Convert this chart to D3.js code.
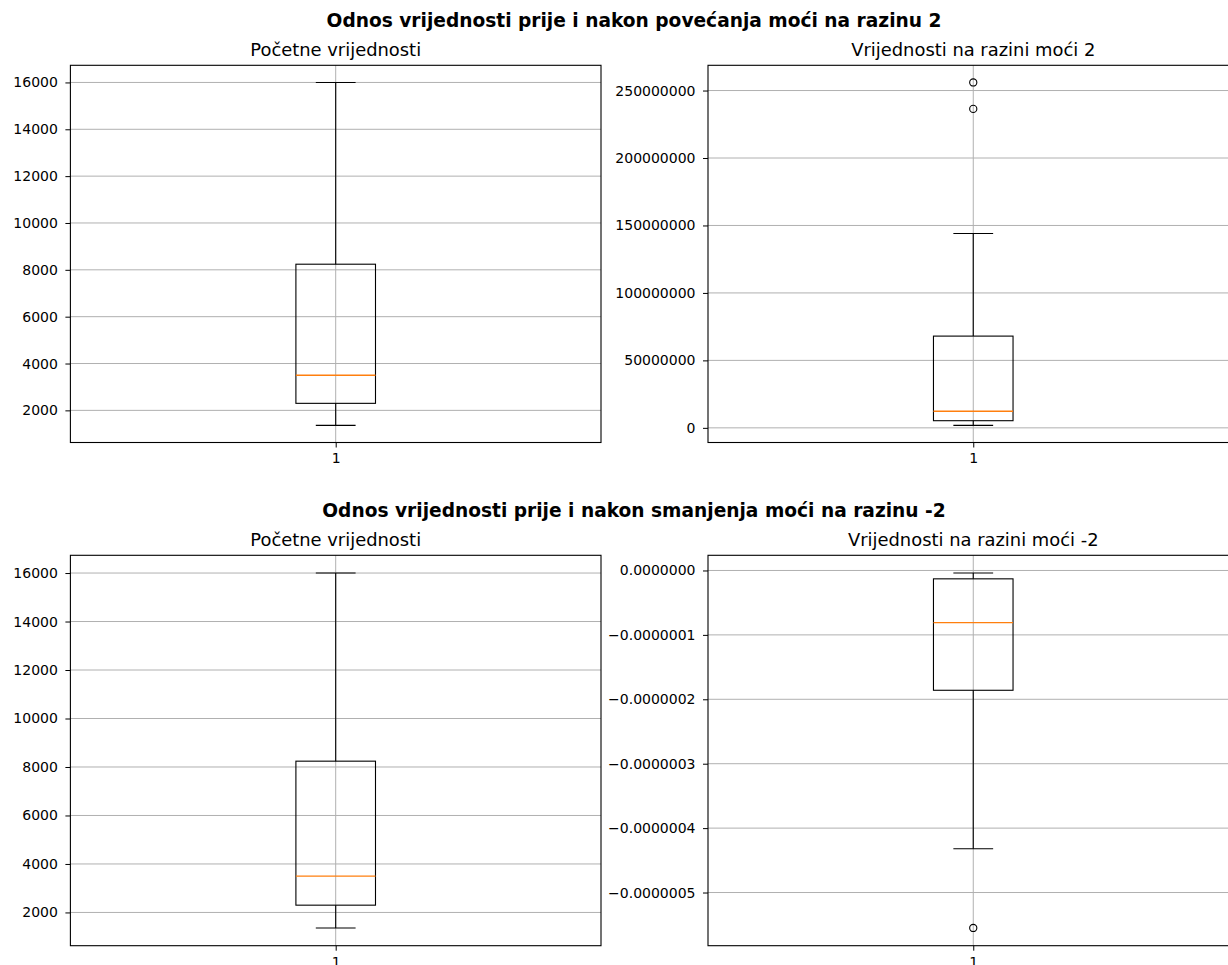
<!DOCTYPE html>
<html lang="hr">
    <head>
        <meta charset="utf-8">
        <title>Odnos vrijednosti prije i nakon promjene moći</title>
        <script src="https://cdn.jsdelivr.net/npm/d3@7"></script>
        <style>
            body { margin: 0; background: #fff; }
            svg { display: block; font-family: "DejaVu Sans", sans-serif; }
        </style>
    </head>
    <body>
        <script type="text/javascript">

            // box stats: [low whisker, q1, median, q3, high whisker]
            var pocetne = [1360, 2300, 3500, 8240, 16000];
            var pocetneOut = [];
            var razina2 = [1850000, 5300000, 12250000, 68000000, 144000000];
            var razina2Out = [236400000, 256000000];
            var razinaMinus2 = [-4.32e-7, -1.86e-7, -0.81e-7, -0.13e-7, -0.04e-7];
            var razinaMinus2Out = [-5.55e-7];

            // tick values
            var ticksPocetne = [2000, 4000, 6000, 8000, 10000, 12000, 14000, 16000];
            var ticksRazina2 = [0, 50000000, 100000000, 150000000, 200000000, 250000000];
            var ticksMinus2 = [0, -1e-7, -2e-7, -3e-7, -4e-7, -5e-7];
            var categories = ["1"];

            var suptitles = [
                "Odnos vrijednosti prije i nakon povećanja moći na razinu 2",
                "Odnos vrijednosti prije i nakon smanjenja moći na razinu -2"
            ];
            var titles = [
                "Početne vrijednosti",
                "Vrijednosti na razini moći 2",
                "Početne vrijednosti",
                "Vrijednosti na razini moći -2"
            ];

            //Width and height etc
            var w = 1228;
            var h = 965;
            var rowTop = [65.3, 555.3];
            var rowBottom = [442.5, 945.7];
            var colLeft = [70.4, 708];
            var colRight = [601, 1238.5];

            var svg = d3.select("body")
                .append("svg")
                .attr("width", w)
                .attr("height", h);

            // figure titles, one per row
            svg.selectAll("text.suptitle")
                .data(suptitles)
                .enter()
                .append("text")
                .attr("class", "suptitle")
                .attr("x", 634)
                .attr("y", function(d, i) { return rowTop[i] - 38; })
                .attr("text-anchor", "middle")
                .attr("font-weight", "bold")
                .attr("font-size", "18.6px")
                .attr("fill", "#000")
                .text(function(d) { return d; });

            var panels = [
                { stats: pocetne, out: pocetneOut, ticks: ticksPocetne, fmt: d3.format("d"), row: 0, col: 0 },
                { stats: razina2, out: razina2Out, ticks: ticksRazina2, fmt: d3.format("d"), row: 0, col: 1 },
                { stats: pocetne, out: pocetneOut, ticks: ticksPocetne, fmt: d3.format("d"), row: 1, col: 0 },
                { stats: razinaMinus2, out: razinaMinus2Out, ticks: ticksMinus2, fmt: d3.format(".7f"), row: 1, col: 1 }
            ];

            var drawPanel = function (p, i) {

                var x0 = colLeft[p.col], x1 = colRight[p.col];
                var y0 = rowTop[p.row], y1 = rowBottom[p.row];

                // matplotlib style 5% margins around the data
                var all = p.stats.concat(p.out);
                var lo = d3.min(all), hi = d3.max(all);
                var pad = (hi - lo) * 0.05;

                var x = d3.scaleLinear().domain([0.5, 1.5]).range([x0, x1]);
                var y = d3.scaleLinear().domain([lo - pad, hi + pad]).range([y1, y0]);

                var g = svg.append("g");

                // title
                g.append("text")
                    .attr("x", (x0 + x1) / 2)
                    .attr("y", y0 - 9.5)
                    .attr("text-anchor", "middle")
                    .attr("font-size", "17.9px")
                    .attr("fill", "#000")
                    .text(titles[i]);

                // grid
                g.selectAll("line.hgrid")
                    .data(p.ticks)
                    .enter()
                    .append("line")
                    .attr("x1", x0).attr("x2", x1)
                    .attr("y1", function(d) { return y(d); })
                    .attr("y2", function(d) { return y(d); })
                    .attr("stroke", "#b0b0b0")
                    .attr("stroke-width", 1);

                g.selectAll("line.vgrid")
                    .data(categories)
                    .enter()
                    .append("line")
                    .attr("x1", function(d) { return x(+d); })
                    .attr("x2", function(d) { return x(+d); })
                    .attr("y1", y0).attr("y2", y1)
                    .attr("stroke", "#b0b0b0")
                    .attr("stroke-width", 1);

                // box
                var s = p.stats;
                var cx = x(1);
                var bw = x(1.075) - cx;
                var cw = x(1.0375) - cx;

                g.append("line")
                    .attr("x1", cx).attr("x2", cx)
                    .attr("y1", y(s[0])).attr("y2", y(s[1]))
                    .attr("stroke", "#000").attr("stroke-width", 1.1);
                g.append("line")
                    .attr("x1", cx).attr("x2", cx)
                    .attr("y1", y(s[3])).attr("y2", y(s[4]))
                    .attr("stroke", "#000").attr("stroke-width", 1.1);

                g.selectAll("line.cap")
                    .data([s[0], s[4]])
                    .enter()
                    .append("line")
                    .attr("x1", cx - cw).attr("x2", cx + cw)
                    .attr("y1", function(d) { return y(d); })
                    .attr("y2", function(d) { return y(d); })
                    .attr("stroke", "#000").attr("stroke-width", 1.1);

                g.append("rect")
                    .attr("x", cx - bw)
                    .attr("y", y(s[3]))
                    .attr("width", bw * 2)
                    .attr("height", y(s[1]) - y(s[3]))
                    .attr("fill", "none")
                    .attr("stroke", "#000")
                    .attr("stroke-width", 1.1);

                g.append("line")
                    .attr("x1", cx - bw).attr("x2", cx + bw)
                    .attr("y1", y(s[2])).attr("y2", y(s[2]))
                    .attr("stroke", "#ff7f0e").attr("stroke-width", 1.4);

                // fliers
                g.selectAll("circle")
                    .data(p.out)
                    .enter()
                    .append("circle")
                    .attr("cx", cx)
                    .attr("cy", function(d) { return y(d); })
                    .attr("r", 3.6)
                    .attr("fill", "none")
                    .attr("stroke", "#000")
                    .attr("stroke-width", 1.1);

                // axes
                var yAxis = d3.axisLeft(y)
                    .tickValues(p.ticks)
                    .tickFormat(p.fmt)
                    .tickSize(5)
                    .tickPadding(7.5);

                var ya = g.append("g")
                    .attr("transform", "translate(" + x0 + ",0)")
                    .call(yAxis);

                var xAxis = d3.axisBottom(x)
                    .tickValues(categories.map(Number))
                    .tickFormat(function(d, k) { return categories[k]; })
                    .tickSize(5)
                    .tickPadding(6);

                var xa = g.append("g")
                    .attr("transform", "translate(0," + y1 + ")")
                    .call(xAxis);

                [ya, xa].forEach(function (a) {
                    a.select(".domain").remove();
                    a.selectAll("text")
                        .attr("font-size", "14px")
                        .attr("font-family", "DejaVu Sans, sans-serif")
                        .attr("fill", "#000");
                    a.selectAll("line").attr("stroke", "#000").attr("stroke-width", 1);
                });

                // frame
                g.append("rect")
                    .attr("x", x0)
                    .attr("y", y0)
                    .attr("width", x1 - x0)
                    .attr("height", y1 - y0)
                    .attr("fill", "none")
                    .attr("stroke", "#000")
                    .attr("stroke-width", 1.1);

            };

            panels.forEach(drawPanel);

        </script>
    </body>
</html>
